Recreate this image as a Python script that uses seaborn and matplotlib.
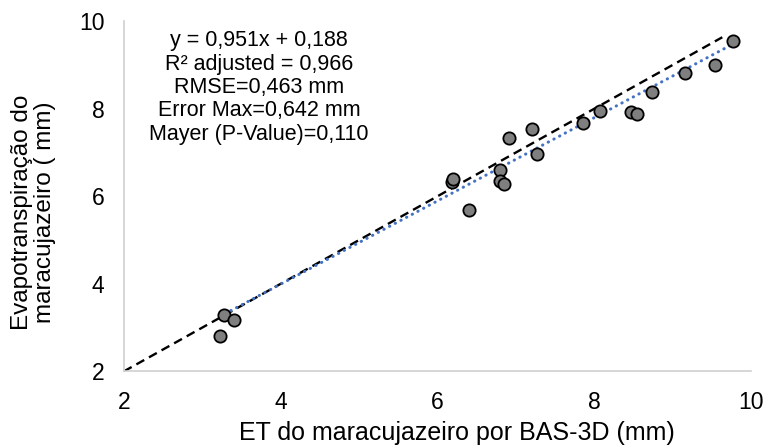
import numpy as np
import pandas as pd
import matplotlib
matplotlib.use("Agg")
import matplotlib.pyplot as plt
import seaborn as sns

# Estimated ET (BAS-3D) vs. observed ET of passion fruit, mm
et_bas3d = [3.22, 3.28, 3.41, 6.19, 6.20, 6.40, 6.80, 6.80, 6.85, 6.91,
            7.20, 7.27, 7.85, 8.07, 8.47, 8.54, 8.73, 9.16, 9.54, 9.77]
et_obs = [2.81, 3.29, 3.17, 6.32, 6.40, 5.69, 6.60, 6.35, 6.27, 7.33,
          7.54, 6.96, 7.68, 7.94, 7.92, 7.88, 8.38, 8.81, 9.00, 9.54]

# Fitted trend line coefficients
slope, intercept = 0.951, 0.188

# 1:1 reference line
ref_x = [2.0, 9.63]
ref_y = [2.0, 9.63]

x_ticks = [2, 4, 6, 8, 10]
y_ticks = [2, 4, 6, 8, 10]

stats_text = ("y = 0,951x + 0,188\n"
              "R² adjusted = 0,966\n"
              "RMSE=0,463 mm\n"
              "Error Max=0,642 mm\n"
              "Mayer (P-Value)=0,110")

sns.set_theme(style="white")
plt.rcParams["font.family"] = ["Liberation Sans", "DejaVu Sans"]

df = pd.DataFrame({"bas": et_bas3d, "obs": et_obs})
xs = np.array([min(et_bas3d), max(et_bas3d)])
trend = pd.DataFrame({"x": xs, "y": slope * xs + intercept})
ref = pd.DataFrame({"x": ref_x, "y": ref_y})

fig = plt.figure(figsize=(7.69, 4.48), dpi=100)
ax = fig.add_axes([0.161, 0.171, 0.816, 0.782])

sns.lineplot(data=ref, x="x", y="y", ax=ax, color="black", lw=1.7,
             linestyle=(0, (3.8, 2.3)), zorder=2)
sns.lineplot(data=trend, x="x", y="y", ax=ax, color="#4472C4", lw=2.2,
             linestyle=(0, (0.1, 2.0)), dash_capstyle="round", zorder=3)
sns.scatterplot(data=df, x="bas", y="obs", ax=ax, s=78, color="#7f7f7f",
                edgecolor="black", linewidth=1.3, zorder=4)

ax.set_xlim(2, 10)
ax.set_ylim(2, 10)
ax.set_xticks(x_ticks)
ax.set_yticks(y_ticks)
ax.tick_params(axis="both", labelsize=16.5, length=0, colors="#000000")
ax.tick_params(axis="x", pad=14)
ax.tick_params(axis="y", pad=14)
for s in ["top", "right"]:
    ax.spines[s].set_visible(False)
for s in ["left", "bottom"]:
    ax.spines[s].set_color("#d0d0d0")
    ax.spines[s].set_linewidth(1.2)

ax.set_xlabel("ET do maracujazeiro por BAS-3D (mm)", fontsize=18,
              color="#000000")
ax.xaxis.set_label_coords(0.53, -0.176)
ax.xaxis.label.set_va("center")

ax.set_ylabel("Evapotranspiração do\nmaracujazeiro ( mm)", fontsize=17.5,
              color="#000000", linespacing=1.1)
ax.yaxis.set_label_coords(-0.144, 0.453)
ax.yaxis.label.set_va("center")

fig.text(0.337, 1 - 87.5 / 448, stats_text, ha="center", va="center",
         fontsize=15.5, linespacing=1.15, color="#000000")

fig.savefig("out.png", dpi=100, facecolor="white")
